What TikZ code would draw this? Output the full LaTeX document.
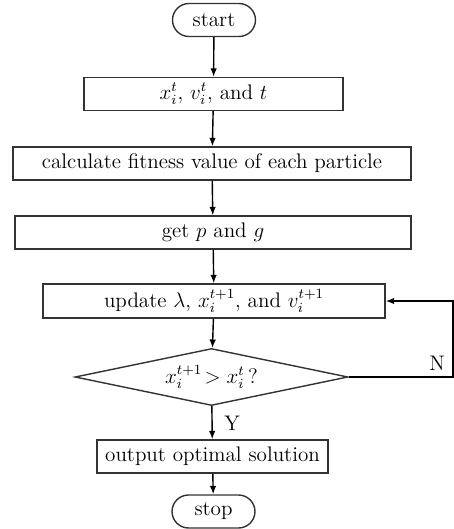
\documentclass[tikz,border=0pt]{standalone}
\usepackage{amsmath}
\usepackage{amssymb}
\usetikzlibrary{arrows.meta,positioning}
\usetikzlibrary{shapes.geometric}
\usetikzlibrary{calc}

\begin{document}
\begin{tikzpicture}[
    x=0.02cm,
    y=-0.02cm,
    >={Latex[length=1.7mm,width=1.3mm]},
    every node/.style={
        font=\large
    },
    block/.style={
        rectangle,
        draw=black!80,
        line width=0.8pt,
        minimum height=0.66cm,
        inner sep=0pt
    },
    terminal/.style={
        rectangle,
        rounded corners=0.33cm,
        draw=black!80,
        line width=0.8pt,
        minimum width=1.66cm,
        minimum height=0.66cm,
        inner sep=0pt
    },
    decision/.style={
        diamond,
        aspect=4.8,
        draw=black!80,
        line width=0.8pt,
        minimum width=5.46cm,
        minimum height=1.14cm,
        inner sep=0pt
    },
    edge/.style={
        ->,
        line width=0.8pt
    },
    tag/.style={
        inner sep=0pt
    }
]

\useasboundingbox (0,0) rectangle (454,529);

% Terminals
\node[terminal] (start) at (214,20) {start};
\node[terminal] (stop) at (213.5,511.5) {stop};

% Process blocks
\node[block, minimum width=5.18cm] (init) at (213.5,94) {$x_i^t$, $v_i^t$, and $t$};
\node[block, minimum width=7.96cm] (fitness) at (212,163.5) {calculate fitness value of each particle};
\node[block, minimum width=7.92cm] (best) at (213,232.5) {get $p$ and $g$};
\node[block, minimum width=6.84cm, minimum height=0.68cm] (update) at (214,301) {update $\lambda$, $x_i^{t+1}$,\ and $v_i^{t+1}$};

% Test
\node[decision] (test) at (211.5,377) {$x_i^{t+1}\!>x_i^t\,?$};

\node[block, minimum width=4.62cm] (output) at (212.5,456.5) {output optimal solution};

% Loop corner
\coordinate (corner) at (453,377);

% Edges
\draw[edge] (start) -- (init);
\draw[edge] (init) -- (fitness);
\draw[edge] (fitness) -- (best);
\draw[edge] (best) -- (update);
\draw[edge] (update) -- (test);
\draw[edge] (test) -- (output);
\draw[edge] (output) -- (stop);

\draw[edge] (test.east) -- (corner) |- (update.east);

% Labels
\node[tag] (yes) at (232,423) {Y};
\node[tag] (no) at (437,363) {N};

\end{tikzpicture}
\end{document}
